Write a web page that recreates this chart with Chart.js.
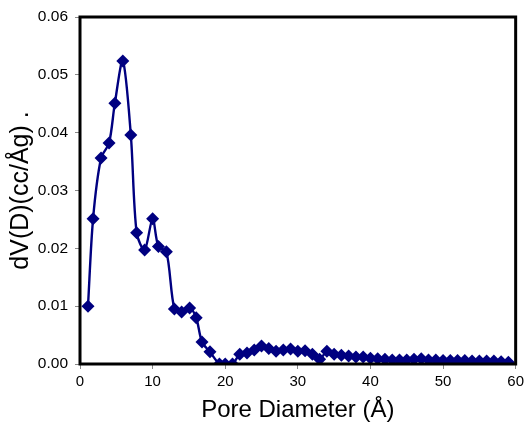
<!DOCTYPE html>
<html>
<head>
<meta charset="utf-8">
<script src="https://cdn.jsdelivr.net/npm/chart.js@4.4.0/dist/chart.umd.min.js"></script>
<style>
  html, body { margin: 0; padding: 0; background: #fff; }
  #box { width: 528px; height: 427px; }
</style>
</head>
<body>
<div id="box"><canvas id="myChart"></canvas></div>
<script>
// pore size distribution
const poreDiameter = [1.1, 1.8, 2.9, 4.0, 4.8, 5.9, 7.0, 7.8, 8.9, 10.0, 10.8, 11.9, 13.0, 14.0, 15.1, 16.0, 16.8, 17.9, 19.2, 20.0, 21.0,
  22, 23, 24, 25, 26, 27, 28, 29, 30, 31, 32, 33, 34, 35, 36, 37, 38, 39, 40,
  41, 42, 43, 44, 45, 46, 47, 48, 49, 50, 51, 52, 53, 54, 55, 56, 57, 58, 59];
const dVdD = [0.0100, 0.0251, 0.0356, 0.0382, 0.0451, 0.0524, 0.0396, 0.0227, 0.0197, 0.0251, 0.0203, 0.0194, 0.0095, 0.0090, 0.0097, 0.0080, 0.0038, 0.0021, 0.0000, 0.0000, 0.0000,
  0.0017, 0.0019, 0.0024, 0.0031, 0.0027, 0.0022, 0.0024, 0.0026, 0.0022, 0.0023, 0.0017, 0.0008, 0.0022, 0.0017, 0.0015, 0.0014, 0.0012, 0.0012, 0.0010,
  0.0009, 0.0008, 0.0007, 0.0007, 0.0007, 0.0008, 0.0009, 0.0007, 0.0007, 0.0006, 0.0006, 0.0006, 0.0006, 0.0005, 0.0005, 0.0005, 0.0005, 0.0004, 0.0003];
const xTicks = [0, 10, 20, 30, 40, 50, 60];
const yTicks = [0, 0.01, 0.02, 0.03, 0.04, 0.05, 0.06];

const pts = poreDiameter.map((d, i) => ({ x: d, y: dVdD[i] }));
const police = 'Arial, "Liberation Sans", sans-serif';

// black frame around the plot area
const cadre = {
  id: 'cadre',
  afterDraw(chart) {
    const a = chart.chartArea, c = chart.ctx;
    c.save();
    c.strokeStyle = '#000';
    c.lineWidth = 3;
    c.strokeRect(a.left, a.top, a.right - a.left, a.bottom - a.top);
    c.restore();
  }
};

const ctx = document.getElementById('myChart');
new Chart(ctx, {
  type: 'line',
  data: {
    datasets: [{
      data: pts,
      borderColor: '#000080',
      backgroundColor: '#000080',
      borderWidth: 2.4,
      tension: 0.3,
      pointStyle: 'rectRot',
      pointRadius: 6.5,
      pointHoverRadius: 6.5,
      pointBorderWidth: 0
    }]
  },
  options: {
    responsive: true,
    maintainAspectRatio: false,
    animation: false,
    layout: { padding: { left: 6, right: 10, top: 17, bottom: 2 } },
    plugins: { legend: { display: false }, tooltip: { enabled: false } },
    scales: {
      x: {
        type: 'linear',
        min: 0, max: 60,
        afterBuildTicks: s => { s.ticks = xTicks.map(v => ({ value: v })); },
        ticks: { color: '#000', font: { family: police, size: 15 }, padding: 4, maxRotation: 0 },
        grid: { drawOnChartArea: false, drawTicks: true, tickLength: 5, color: '#888' },
        border: { display: false },
        title: { display: true, text: 'Pore Diameter (Å)', color: '#000', font: { family: police, size: 24 }, padding: { top: 0, bottom: 0 } },
        afterFit: s => { s.height = 61; }
      },
      y: {
        min: 0, max: 0.06,
        afterBuildTicks: s => { s.ticks = yTicks.map(v => ({ value: v })); },
        ticks: { color: '#000', font: { family: police, size: 15.5 }, padding: 7, callback: v => v.toFixed(2) },
        grid: { drawOnChartArea: false, drawTicks: true, tickLength: 5, color: '#888' },
        border: { display: false },
        title: { display: true, text: 'dV(D)(cc/Åg) .', color: '#000', font: { family: police, size: 25 }, padding: { top: 0, bottom: 0 } },
        afterFit: s => { s.width = 74; }
      }
    }
  },
  plugins: [cadre]
});
</script>
</body>
</html>
